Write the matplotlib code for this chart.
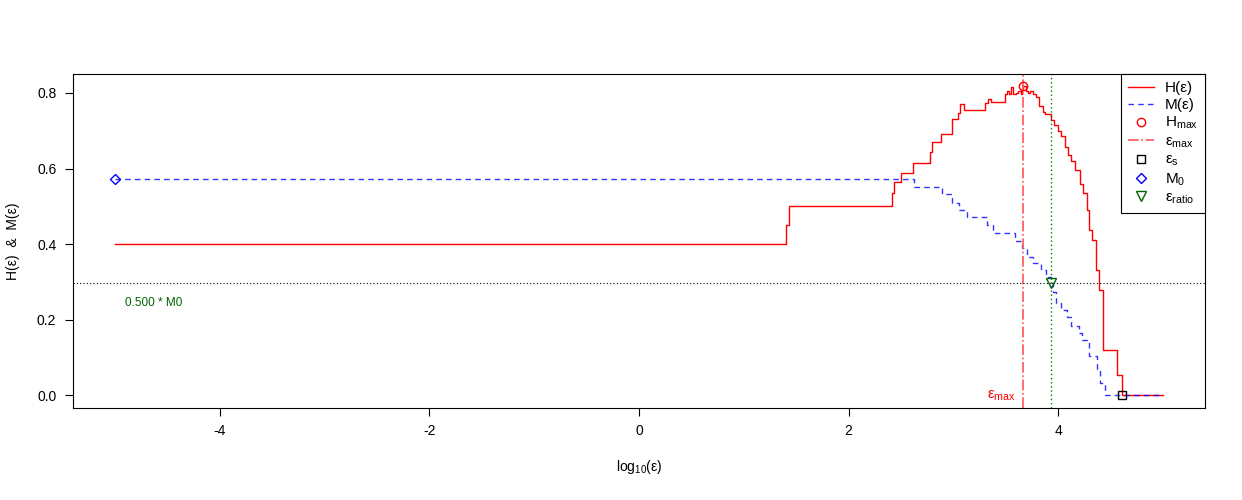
import matplotlib.pyplot as plt
from matplotlib.lines import Line2D

plt.rcParams['font.family'] = ['Liberation Sans', 'DejaVu Sans']
plt.rcParams['mathtext.fontset'] = 'custom'
plt.rcParams['mathtext.rm'] = 'Liberation Sans'
plt.rcParams['mathtext.it'] = 'Liberation Sans'
plt.rcParams['axes.unicode_minus'] = False

# H(eps) step curve: breakpoints (log10 eps) and values
h_x = [-5.0, 1.40, 1.43, 2.41, 2.43, 2.50, 2.61, 2.78, 2.80, 2.88, 2.99, 3.04, 3.06,
       3.10, 3.30, 3.33, 3.36, 3.49, 3.51, 3.53, 3.55, 3.57, 3.60, 3.62, 3.64, 3.65,
       3.667, 3.69, 3.71, 3.73, 3.76, 3.79, 3.82, 3.85, 3.87, 3.93, 3.96, 4.00, 4.03,
       4.06, 4.09, 4.12, 4.16, 4.21, 4.24, 4.27, 4.29, 4.32, 4.36, 4.39, 4.43, 4.56,
       4.61, 5.00]
h_y = [0.400, 0.450, 0.500, 0.535, 0.564, 0.589, 0.615, 0.643, 0.671, 0.692, 0.731,
       0.746, 0.771, 0.755, 0.772, 0.784, 0.777, 0.797, 0.804, 0.797, 0.815, 0.797,
       0.800, 0.804, 0.797, 0.808, 0.817, 0.804, 0.800, 0.806, 0.797, 0.788, 0.766,
       0.749, 0.745, 0.727, 0.714, 0.700, 0.687, 0.657, 0.635, 0.621, 0.595, 0.560,
       0.534, 0.490, 0.437, 0.410, 0.331, 0.279, 0.120, 0.055, 0.000, 0.000]

# M(eps) step curve
m_x = [-5.0, 2.62, 2.89, 2.99, 3.05, 3.13, 3.32, 3.38, 3.59, 3.65, 3.70, 3.76, 3.84,
       3.88, 3.93, 3.95, 3.98, 4.03, 4.08, 4.12, 4.20, 4.23, 4.29, 4.37, 4.40, 4.45, 5.00]
m_y = [0.571, 0.551, 0.532, 0.510, 0.490, 0.471, 0.450, 0.430, 0.409, 0.389, 0.367,
       0.349, 0.331, 0.314, 0.296, 0.274, 0.244, 0.226, 0.208, 0.184, 0.165, 0.147,
       0.103, 0.068, 0.033, 0.000, 0.000]

# special points
eps_max, h_max = 3.667, 0.817
eps_s = 4.61
m0_x, m0 = -5.0, 0.571
eps_ratio, m_ratio = 3.93, 0.296

fig = plt.figure(figsize=(12.42, 5), dpi=100)
ax = fig.add_axes([0.0588, 0.1846, 0.9114, 0.6674])

ax.plot(h_x, h_y, color='red', lw=1, drawstyle='steps-post')
ax.plot(m_x, m_y, color='blue', lw=1, ls=(0, (4, 3)), drawstyle='steps-post', alpha=0.8)

ax.axvline(eps_max, color='#ff5555', lw=1.2, ls='-.')
ax.axvline(eps_ratio, color='green', lw=1, ls=(0, (1, 2)))
ax.axhline(m_ratio, color='black', lw=0.8, ls=(0, (1, 2)))

ax.plot(eps_max, h_max, 'o', mfc='none', mec='red', ms=6)
ax.plot(eps_s, 0, 's', mfc='none', mec='black', ms=6)
ax.plot(m0_x, m0, 'D', mfc='none', mec='blue', ms=5.5)
ax.plot(eps_ratio, m_ratio, 'v', mfc='none', mec='darkgreen', ms=7)

ax.text(-4.9, m_ratio - 0.035, '0.500 * M0', color='darkgreen', fontsize=8.5, va='top')
ax.text(eps_max - 0.07, 0.0, r'ε$_{\rm max}$', color='red', fontsize=11, ha='right', va='center')

ax.set_xlim(-5.4, 5.4)
ax.set_ylim(-0.0327, 0.85)
ax.set_xticks([-4, -2, 0, 2, 4])
ax.set_yticks([0.0, 0.2, 0.4, 0.6, 0.8])
ax.set_yticklabels(['0.0', '0.2', '0.4', '0.6', '0.8'])
ax.tick_params(direction='out', length=6, labelsize=10, pad=6)
ax.set_xlabel(r'log$_{10}$(ε)', fontsize=10, labelpad=14)
ax.set_ylabel('H(ε)  &  M(ε)', fontsize=10, labelpad=12)

handles = [
    Line2D([], [], color='red', lw=1),
    Line2D([], [], color='blue', lw=1, ls=(0, (4, 3)), alpha=0.8),
    Line2D([], [], color='red', marker='o', mfc='none', ls='none', ms=6),
    Line2D([], [], color='#ff5555', lw=1.2, ls='-.'),
    Line2D([], [], color='black', marker='s', mfc='none', ls='none', ms=6),
    Line2D([], [], color='blue', marker='D', mfc='none', ls='none', ms=5.5),
    Line2D([], [], color='darkgreen', marker='v', mfc='none', ls='none', ms=7),
]
labels = ['H(ε)', 'M(ε)', r'H$_{\rm max}$', r'ε$_{\rm max}$', r'ε$_{\rm s}$',
          r'M$_{\rm 0}$', r'ε$_{\rm ratio}$']
leg = ax.legend(handles, labels, loc='upper right', borderaxespad=0, fancybox=False,
                edgecolor='black', framealpha=1, fontsize=11, handlelength=1.7,
                labelspacing=0.2, handletextpad=0.7, borderpad=0.45)
leg.get_frame().set_linewidth(0.8)

fig.savefig('out.png', dpi=100)
